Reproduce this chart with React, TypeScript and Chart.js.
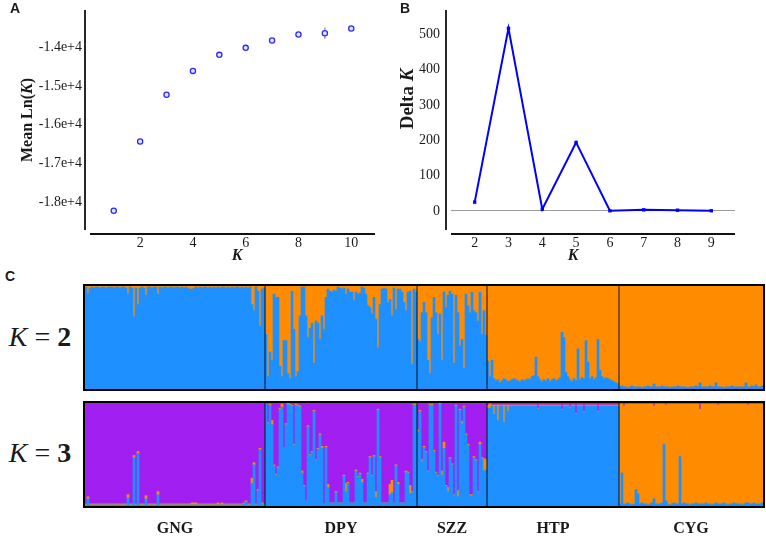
import React, { useEffect, useRef } from "react";
import { Chart, registerables } from "chart.js";
Chart.register(...registerables);

const SERIF = '"Liberation Serif", "Times New Roman", serif';
const SANS = '"Liberation Sans", Arial, sans-serif';

// ---------- Panel A: mean Ln(K) ----------
const lnKValues = [1, 2, 3, 4, 5, 6, 7, 8, 9, 10];
const lnKMean = [-18225, -16433, -15223, -14606, -14191, -14010, -13819, -13663, -13630, -13508];
const lnKSd = [20, 15, 15, 20, 15, 15, 15, 20, 150, 15];
const lnKXTicks = [2, 4, 6, 8, 10];
const lnKYTicks = [-18000, -17000, -16000, -15000, -14000];

// ---------- Panel B: Delta K ----------
const deltaKValues = [2, 3, 4, 5, 6, 7, 8, 9];
const deltaK = [25, 517, 5, 194, 0.5, 3, 2, 0.5];
const deltaKYTicks = [0, 100, 200, 300, 400, 500];

// ---------- Panel C: STRUCTURE membership (percent) ----------
const populations = ["GNG", "DPY", "SZZ", "HTP", "CYG"];

// K = 2 : orange cluster share (blue is the rest)
const gngK2Orange = [
  1, 7, 2, 1, 2, 1, 1, 2, 1, 1,
  2, 1, 1, 1, 2, 1, 1, 2, 1, 1,
  2, 8, 1, 2, 30, 2, 18, 2, 1, 2,
  9, 1, 1, 2, 1, 1, 8, 1, 2, 1,
  1, 2, 1, 1, 2, 1, 1, 2, 1, 2,
  1, 2, 3, 3, 2, 1, 2, 1, 2, 1,
  1, 2, 1, 2, 1, 2, 1, 2, 1, 1,
  2, 1, 2, 1, 2, 1, 1, 2, 1, 2,
  1, 2, 1, 18, 24, 1, 5, 39, 3, 2,
];
const dpyK2Orange = [
  47, 88, 64, 72, 8, 11, 11, 78, 88, 53,
  53, 85, 90, 5, 42, 88, 83, 29, 1, 1,
  29, 50, 41, 36, 75, 34, 36, 52, 29, 42,
  11, 3, 5, 6, 4, 5, 1, 2, 3, 2,
  8, 3, 6, 6, 14, 6, 8, 7, 1, 2,
  8, 19, 21, 27, 11, 32, 60, 18, 3, 2,
  3, 16, 13, 29, 2, 23, 3, 3, 6, 16,
  24, 6, 5, 76, 3, 6,
];
const szzK2Orange = [
  52, 54, 26, 16, 26, 72, 85, 31, 11, 26,
  47, 27, 72, 6, 21, 9, 5, 8, 75, 9,
  26, 58, 52, 80, 8, 19, 26, 6, 24, 26,
  34, 6, 47, 24, 48,
];
const htpK2Orange = [
  73, 88, 72, 90, 92, 91, 94, 92, 90, 91,
  93, 92, 91, 90, 91, 92, 93, 91, 92, 91,
  90, 91, 88, 87, 69, 88, 91, 93, 91, 92,
  90, 93, 91, 90, 92, 91, 89, 45, 50, 84,
  88, 91, 93, 90, 92, 61, 91, 89, 90, 53,
  74, 90, 88, 91, 89, 52, 82, 88, 90, 89,
  90, 91, 92, 93, 94, 95,
];
const cygK2Orange = [
  98, 97, 98, 98, 99, 98, 97, 98, 98, 98,
  98, 99, 98, 98, 97, 98, 98, 95, 98, 98,
  98, 97, 98, 98, 98, 99, 98, 98, 98, 97,
  98, 98, 98, 98, 99, 98, 98, 98, 97, 98,
  94, 98, 98, 98, 98, 97, 98, 98, 94, 98,
  98, 98, 99, 98, 98, 98, 97, 98, 98, 98,
  98, 98, 98, 94, 98, 98, 97, 98, 96, 98,
  98, 97,
];

// K = 3 : purple and orange cluster shares (blue is the rest)
const gngK3Purple = [
  98, 91, 98, 98, 98, 98, 98, 98, 98, 98,
  98, 98, 98, 98, 98, 98, 98, 98, 98, 98,
  98, 89, 98, 98, 51, 98, 47, 98, 98, 98,
  90, 98, 98, 98, 98, 98, 86, 98, 98, 98,
  98, 98, 98, 98, 98, 98, 98, 98, 98, 98,
  98, 98, 98, 97, 97, 97, 98, 98, 98, 98,
  98, 98, 98, 98, 98, 98, 97, 98, 97, 98,
  98, 98, 98, 98, 98, 98, 98, 98, 98, 97,
  95, 98, 98, 73, 58, 98, 84, 44, 97, 98,
];
const gngK3Orange = [
  1, 2, 1, 1, 1, 1, 1, 1, 1, 1,
  1, 1, 1, 1, 1, 1, 1, 1, 1, 1,
  1, 3, 1, 1, 2, 1, 2, 1, 1, 1,
  3, 1, 1, 1, 1, 1, 3, 1, 1, 1,
  1, 1, 1, 1, 1, 1, 1, 1, 1, 1,
  1, 1, 1, 2, 2, 2, 1, 1, 1, 1,
  1, 1, 1, 1, 1, 1, 2, 1, 2, 1,
  1, 1, 1, 1, 1, 1, 1, 1, 1, 1,
  1, 1, 1, 5, 2, 1, 1, 1, 1, 1,
];
const dpyK3Purple = [
  1, 19, 1, 17, 60, 69, 62, 5, 1, 43,
  20, 0, 1, 2, 40, 1, 2, 3, 66, 80,
  95, 22, 50, 47, 7, 55, 44, 30, 42, 98,
  42, 79, 97, 97, 97, 86, 97, 97, 97, 70,
  78, 77, 97, 97, 97, 65, 71, 68, 74, 97,
  97, 68, 52, 70, 51, 86, 6, 52, 97, 97,
  97, 97, 79, 75, 97, 60, 77, 97, 97, 97,
  66, 67, 80, 86, 1, 1,
];
const dpyK3Orange = [
  0, 1, 1, 4, 1, 1, 1, 1, 3, 0,
  1, 1, 1, 1, 1, 1, 1, 1, 2, 1,
  0, 1, 1, 1, 1, 1, 1, 1, 2, 0,
  1, 3, 0, 0, 0, 1, 0, 0, 0, 1,
  8, 1, 0, 0, 0, 1, 1, 1, 3, 0,
  0, 1, 1, 1, 1, 6, 1, 1, 0, 0,
  0, 0, 10, 12, 0, 1, 2, 0, 0, 0,
  1, 1, 8, 1, 1, 1,
];
const szzK3Purple = [
  26, 7, 55, 42, 47, 66, 1, 1, 46, 67,
  70, 0, 66, 38, 80, 82, 53, 59, 89, 2,
  85, 6, 18, 3, 30, 40, 89, 89, 52, 55,
  86, 38, 53, 54, 55,
];
const szzK3Orange = [
  2, 1, 2, 1, 1, 1, 1, 1, 1, 1,
  1, 1, 4, 6, 1, 4, 1, 1, 1, 1,
  6, 1, 2, 1, 1, 1, 1, 1, 1, 1,
  1, 2, 1, 12, 10,
];
const htpK3Purple = [
  2, 1, 2, 2, 2, 2, 2, 2, 2, 2,
  2, 2, 2, 2, 2, 2, 2, 2, 2, 2,
  2, 2, 2, 2, 2, 5, 2, 2, 2, 2,
  2, 2, 2, 2, 2, 2, 2, 6, 2, 2,
  2, 4, 2, 2, 10, 2, 2, 2, 8, 2,
  2, 2, 2, 2, 2, 8, 2, 2, 2, 2,
  2, 2, 2, 2, 2, 2,
];
const htpK3Orange = [
  3, 4, 1, 9, 1, 15, 1, 1, 17, 1,
  6, 1, 1, 1, 1, 1, 1, 1, 1, 1,
  1, 1, 1, 1, 1, 1, 1, 1, 1, 1,
  1, 1, 1, 1, 1, 1, 1, 1, 1, 1,
  1, 1, 1, 1, 1, 1, 1, 1, 1, 1,
  1, 1, 1, 1, 1, 1, 1, 1, 1, 1,
  1, 1, 1, 1, 1, 1,
];
const cygK3Purple = [
  1, 1, 3, 1, 1, 1, 1, 1, 1, 1,
  1, 1, 1, 1, 1, 1, 1, 3, 1, 1,
  1, 1, 1, 2, 1, 1, 1, 1, 1, 1,
  1, 1, 1, 1, 1, 1, 1, 1, 1, 1,
  6, 1, 1, 1, 1, 1, 1, 1, 1, 2,
  1, 1, 1, 1, 1, 1, 1, 1, 1, 1,
  1, 1, 1, 1, 2, 1, 1, 1, 1, 1,
  1, 1,
];
const cygK3Orange = [
  97, 67, 95, 97, 96, 97, 98, 97, 83, 87,
  97, 96, 97, 97, 98, 97, 96, 90, 97, 97,
  97, 96, 39, 93, 97, 98, 97, 96, 97, 97,
  51, 97, 96, 97, 97, 98, 97, 97, 96, 97,
  92, 97, 97, 96, 97, 97, 98, 97, 96, 96,
  97, 97, 96, 97, 98, 97, 97, 96, 97, 97,
  97, 98, 97, 96, 95, 97, 97, 96, 97, 97,
  97, 96,
];

const popSizes = [gngK2Orange.length, dpyK2Orange.length, szzK2Orange.length, htpK2Orange.length, cygK2Orange.length];
const k2Orange = [...gngK2Orange, ...dpyK2Orange, ...szzK2Orange, ...htpK2Orange, ...cygK2Orange];
const k2Blue = k2Orange.map((v) => 100 - v);
const k3Purple = [...gngK3Purple, ...dpyK3Purple, ...szzK3Purple, ...htpK3Purple, ...cygK3Purple];
const k3Orange = [...gngK3Orange, ...dpyK3Orange, ...szzK3Orange, ...htpK3Orange, ...cygK3Orange];
const k3Blue = k3Purple.map((p, i) => 100 - p - k3Orange[i]);

const BLUE = "#1e90ff";
const ORANGE = "#ff8c00";
const PURPLE = "#a020f0";
const TEXT = "#1a1a1a";

type Part = { text: string; font: string };
function drawRich(ctx: CanvasRenderingContext2D, parts: Part[], x: number, y: number, rotate: boolean) {
  ctx.save();
  ctx.translate(x, y);
  if (rotate) ctx.rotate(-Math.PI / 2);
  let total = 0;
  const widths = parts.map((p) => {
    ctx.font = p.font;
    const w = ctx.measureText(p.text).width;
    total += w;
    return w;
  });
  let cx = -total / 2;
  ctx.textBaseline = "middle";
  ctx.textAlign = "left";
  ctx.fillStyle = TEXT;
  parts.forEach((p, i) => {
    ctx.font = p.font;
    ctx.fillText(p.text, cx, 0);
    cx += widths[i];
  });
  ctx.restore();
}

const offsetAxesPlugin = {
  id: "offsetAxes",
  afterDraw(chart: any) {
    const { ctx, chartArea: ca } = chart;
    ctx.save();
    ctx.strokeStyle = "#111";
    ctx.lineWidth = 1.8;
    ctx.beginPath();
    ctx.moveTo(ca.left - 5, ca.top);
    ctx.lineTo(ca.left - 5, ca.bottom);
    ctx.moveTo(ca.left, ca.bottom + 4);
    ctx.lineTo(ca.right, ca.bottom + 4);
    ctx.stroke();
    ctx.restore();
  },
};

function titlesPlugin(yParts: Part[], yx: number, yy: number, xParts: Part[], xx: number, xy: number) {
  return {
    id: "titles",
    afterDraw(chart: any) {
      const ctx = chart.ctx;
      drawRich(ctx, yParts, yx, yy, true);
      drawRich(ctx, xParts, xx, xy, false);
    },
  };
}

const errorBarPlugin = {
  id: "errorBars",
  beforeDatasetsDraw(chart: any) {
    const { ctx, scales } = chart;
    ctx.save();
    ctx.strokeStyle = "#8a8a8a";
    ctx.lineWidth = 1.2;
    lnKValues.forEach((k, i) => {
      const x = scales.x.getPixelForValue(k);
      ctx.beginPath();
      ctx.moveTo(x, scales.y.getPixelForValue(lnKMean[i] - lnKSd[i]));
      ctx.lineTo(x, scales.y.getPixelForValue(lnKMean[i] + lnKSd[i]));
      ctx.stroke();
    });
    ctx.restore();
  },
};

const tickFont = { family: SERIF, size: 14 };
const noPad = (s: any) => {
  s.paddingTop = 0;
  s.paddingBottom = 0;
  s.paddingLeft = 0;
  s.paddingRight = 0;
};

function makeLnK(): any {
  return {
    type: "scatter",
    data: {
      datasets: [
        {
          data: lnKValues.map((k, i) => ({ x: k, y: lnKMean[i] })),
          pointStyle: "circle",
          pointRadius: 2.6,
          borderWidth: 1.3,
          borderColor: "#2a2aff",
          backgroundColor: "#e6e6ff",
        },
      ],
    },
    options: {
      animation: false,
      responsive: false,
      events: [],
      layout: { padding: { left: 0, top: 10, right: 8, bottom: 0 } },
      plugins: { legend: { display: false }, tooltip: { enabled: false } },
      scales: {
        x: {
          type: "linear",
          min: 0.1,
          max: 10.9,
          grid: { display: false, drawTicks: false },
          border: { display: false },
          ticks: { font: tickFont, color: TEXT, padding: 5, maxRotation: 0 },
          afterBuildTicks: (s: any) => { s.ticks = lnKXTicks.map((v) => ({ value: v })); },
          afterFit: (s: any) => { s.height = 35; noPad(s); },
        },
        y: {
          type: "linear",
          min: -18725,
          max: -13030,
          grid: { display: false, drawTicks: false },
          border: { display: false },
          ticks: { font: tickFont, color: TEXT, padding: 8, callback: (v: number) => (v / 1e4).toFixed(1) + "e+4" },
          afterBuildTicks: (s: any) => { s.ticks = lnKYTicks.map((v) => ({ value: v })); },
          afterFit: (s: any) => { s.width = 90; noPad(s); },
        },
      },
    },
    plugins: [
      errorBarPlugin,
      offsetAxesPlugin,
      titlesPlugin(
        [
          { text: "Mean Ln(", font: `bold 16px ${SERIF}` },
          { text: "K", font: `italic bold 16px ${SERIF}` },
          { text: ")", font: `bold 16px ${SERIF}` },
        ],
        28, 120,
        [{ text: "K", font: `italic bold 16px ${SERIF}` }],
        237, 256
      ),
    ],
  };
}

function makeDeltaK(): any {
  return {
    type: "line",
    data: {
      datasets: [
        {
          data: deltaKValues.map((k, i) => ({ x: k, y: deltaK[i] })),
          borderColor: "#0000ff",
          borderWidth: 2,
          backgroundColor: "#0000ff",
          pointStyle: "rect",
          pointRadius: 2.4,
          pointBorderWidth: 0,
          tension: 0,
        },
      ],
    },
    options: {
      animation: false,
      responsive: false,
      events: [],
      layout: { padding: { left: 0, top: 10, right: 31, bottom: 0 } },
      plugins: { legend: { display: false }, tooltip: { enabled: false } },
      scales: {
        x: {
          type: "linear",
          min: 1.3,
          max: 9.7,
          grid: { display: false, drawTicks: false },
          border: { display: false },
          ticks: { font: tickFont, color: TEXT, padding: 5, maxRotation: 0 },
          afterBuildTicks: (s: any) => { s.ticks = deltaKValues.map((v) => ({ value: v })); },
          afterFit: (s: any) => { s.height = 35; noPad(s); },
        },
        y: {
          type: "linear",
          min: -54,
          max: 569,
          grid: {
            display: true,
            drawTicks: false,
            lineWidth: 1,
            color: (c: any) => (c.tick && c.tick.value === 0 ? "#9a9a9a" : "rgba(0,0,0,0)"),
          },
          border: { display: false },
          ticks: { font: tickFont, color: TEXT, padding: 11 },
          afterBuildTicks: (s: any) => { s.ticks = deltaKYTicks.map((v) => ({ value: v })); },
          afterFit: (s: any) => { s.width = 68; noPad(s); },
        },
      },
    },
    plugins: [
      offsetAxesPlugin,
      titlesPlugin(
        [
          { text: "Delta ", font: `bold 19px ${SERIF}` },
          { text: "K", font: `italic bold 19px ${SERIF}` },
        ],
        25, 99,
        [{ text: "K", font: `italic bold 16px ${SERIF}` }],
        190, 256
      ),
    ],
  };
}

function makeStructure(blue: number[], orange: number[], purple: number[] | null, showLabels: boolean): any {
  const datasets: any[] = [
    { data: blue, backgroundColor: BLUE },
    { data: orange, backgroundColor: ORANGE },
  ];
  if (purple) datasets.push({ data: purple, backgroundColor: PURPLE });
  const framePlugin = {
    id: "frame",
    afterDatasetsDraw(chart: any) {
      const { ctx, chartArea: ca, scales } = chart;
      ctx.save();
      ctx.strokeStyle = "rgba(0,0,0,0.75)";
      ctx.lineWidth = 1.2;
      let idx = 0;
      popSizes.slice(0, -1).forEach((n) => {
        idx += n;
        const px = (scales.x.getPixelForValue(idx - 1) + scales.x.getPixelForValue(idx)) / 2;
        ctx.beginPath();
        ctx.moveTo(px, ca.top);
        ctx.lineTo(px, ca.bottom);
        ctx.stroke();
      });
      ctx.strokeStyle = "#000";
      ctx.lineWidth = 2;
      ctx.strokeRect(ca.left - 1, ca.top - 1, ca.right - ca.left + 2, ca.bottom - ca.top + 2);
      if (showLabels) {
        ctx.fillStyle = TEXT;
        ctx.font = `bold 16px ${SERIF}`;
        ctx.textAlign = "center";
        ctx.textBaseline = "middle";
        let start = 0;
        populations.forEach((name, i) => {
          const end = start + popSizes[i] - 1;
          const cx = (scales.x.getPixelForValue(start) + scales.x.getPixelForValue(end)) / 2;
          ctx.fillText(name, cx, ca.bottom + 23);
          start = end + 1;
        });
      }
      ctx.restore();
    },
  };
  return {
    type: "bar",
    data: { labels: blue.map((_, i) => i), datasets },
    options: {
      animation: false,
      responsive: false,
      events: [],
      layout: { padding: { left: 2, right: 2, top: 2, bottom: showLabels ? 32 : 2 } },
      plugins: { legend: { display: false }, tooltip: { enabled: false } },
      datasets: { bar: { barPercentage: 1, categoryPercentage: 1, borderWidth: 0 } },
      scales: {
        x: { display: false, stacked: true },
        y: { display: false, stacked: true, min: 0, max: 100 },
      },
    },
    plugins: [framePlugin],
  };
}

function ChartBox({ make, left, top, width, height }: { make: () => any; left: number; top: number; width: number; height: number }) {
  const ref = useRef<HTMLCanvasElement>(null);
  useEffect(() => {
    const chart = new Chart(ref.current as HTMLCanvasElement, make());
    return () => chart.destroy();
  }, []);
  return (
    <canvas
      ref={ref}
      width={width}
      height={height}
      style={{ position: "absolute", left, top, width, height, display: "block" }}
    />
  );
}

const letterStyle = (left: number, top: number): React.CSSProperties => ({
  position: "absolute",
  left,
  top,
  fontFamily: SANS,
  fontWeight: "bold",
  fontSize: 14,
  lineHeight: "16px",
  color: TEXT,
});

const kLabelStyle = (top: number): React.CSSProperties => ({
  position: "absolute",
  left: 0,
  top,
  width: 80,
  textAlign: "center",
  fontFamily: SERIF,
  fontSize: 28,
  lineHeight: "30px",
  color: TEXT,
  whiteSpace: "nowrap",
});

export default function App() {
  return (
    <div style={{ position: "absolute", left: 0, top: 0, width: 766, height: 538, background: "#fff", overflow: "hidden" }}>
      <ChartBox make={makeLnK} left={0} top={0} width={383} height={265} />
      <ChartBox make={makeDeltaK} left={383} top={0} width={383} height={265} />
      <ChartBox make={() => makeStructure(k2Blue, k2Orange, null, false)} left={83} top={284} width={682} height={107} />
      <ChartBox make={() => makeStructure(k3Blue, k3Orange, k3Purple, true)} left={83} top={401} width={682} height={137} />
      <div style={letterStyle(10, 0)}>A</div>
      <div style={letterStyle(400, 0)}>B</div>
      <div style={letterStyle(5, 268)}>C</div>
      <div style={kLabelStyle(322)}>
        <i>K</i> = <b>2</b>
      </div>
      <div style={kLabelStyle(438)}>
        <i>K</i> = <b>3</b>
      </div>
    </div>
  );
}
